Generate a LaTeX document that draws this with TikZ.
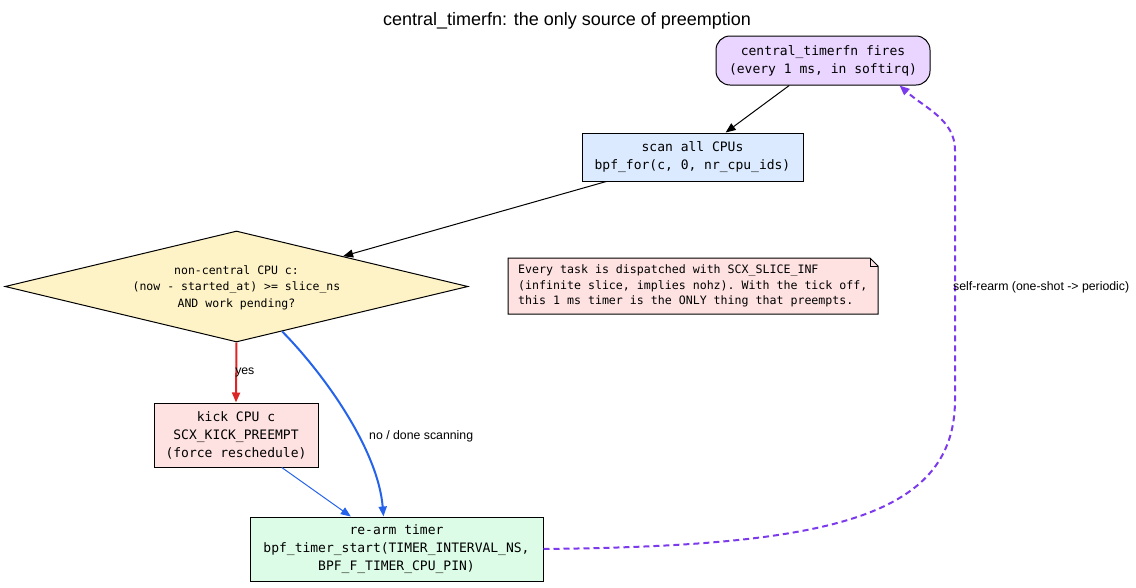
\documentclass[tikz,border=0pt]{standalone}
\usepackage{fontspec}
\setmainfont{Liberation Sans}
\setmonofont{DejaVu Sans Mono}
\usetikzlibrary{shapes.geometric,arrows.meta,calc,backgrounds}
\definecolor{topfill}{HTML}{E9D5FF}
\definecolor{scanfill}{HTML}{DBEAFE}
\definecolor{diafill}{HTML}{FEF3C7}
\definecolor{redfill}{HTML}{FEE2E2}
\definecolor{greenfill}{HTML}{DCFCE7}
\definecolor{redline}{HTML}{DC2626}
\definecolor{blueline}{HTML}{2563EB}
\definecolor{purpleline}{HTML}{7C3AED}
\begin{document}
\begin{tikzpicture}[x=1pt,y=-1pt,
  box/.style={draw=black, line width=1pt, align=center, inner sep=0pt,
    font=\fontsize{13}{18}\selectfont\ttfamily},
  lbl/.style={font=\fontsize{12.3}{14}\selectfont, inner sep=0pt},
  tip/.style={-{Triangle[length=10pt,width=8pt]}},
  ]
\useasboundingbox (0,0) rectangle (1136,587);

\node[font=\fontsize{18}{20}\selectfont, inner sep=0pt] (title) at (567,21) {central\_timerfn: the only source of preemption};

\node[box, fill=topfill, rounded corners=14pt, minimum width=214pt, minimum height=49pt] (top) at (823,60.5)
  {central\_timerfn fires\\(every 1 ms, in softirq)};
\node[box, fill=scanfill, minimum width=221pt, minimum height=48pt] (scan) at (692.5,157)
  {scan all CPUs\\bpf\_for(c, 0, nr\_cpu\_ids)};
\node[draw=black, line width=1pt, fill=diafill, diamond, minimum width=463pt, minimum height=111pt, inner sep=0pt] (dia) at (236.5,286.5) {};
\node[align=center, inner sep=0pt, font=\fontsize{11.5}{16.5}\selectfont\ttfamily] (diatext) at ($(dia.center)+(0,1)$)
  {non-central CPU c:\\(now - started\_at) >= slice\_ns\\AND work pending?};
\node[box, fill=redfill, minimum width=164pt, minimum height=64pt] (kick) at (236,435)
  {kick CPU c\\SCX\_KICK\_PREEMPT\\(force reschedule)};
\node[box, fill=greenfill, minimum width=293pt, minimum height=64pt] (rearm) at (396.5,549)
  {re-arm timer\\bpf\_timer\_start(TIMER\_INTERVAL\_NS,\\BPF\_F\_TIMER\_CPU\_PIN)};

\node[align=left, inner sep=0pt, font=\fontsize{11.6}{15.5}\selectfont\ttfamily, anchor=west] (note) at (518,286)
  {Every task is dispatched with SCX\_SLICE\_INF\\(infinite slice, implies nohz). With the tick off,\\this 1 ms timer is the ONLY thing that preempts.};
\coordinate (nNW) at (508,258);
\coordinate (nSE) at (878,314);
\begin{scope}[on background layer]
\draw[line width=1pt, fill=redfill] (nNW) -- ($(nSE|-nNW)+(-8,0)$) -- ($(nSE|-nNW)+(0,8)$) -- (nSE) -- (nNW|-nSE) -- cycle;
\end{scope}
\draw[line width=0.8pt] ($(nSE|-nNW)+(-8,0)$) -- ($(nSE|-nNW)+(-8,8)$) -- ($(nSE|-nNW)+(0,8)$);

% connectors
\draw[tip, line width=1pt] (top) -- (scan);
\draw[tip, line width=1pt] (scan) -- (dia);
\draw[tip, redline, line width=2pt] (dia.south) -- (kick.north) node[lbl, black, pos=0.5, anchor=west, xshift=-2pt] {yes};
\draw[tip, blueline, line width=2pt] ($(dia.south)!0.197!(dia.east)$) .. controls (325,375) and (378,450) .. ($(rearm.north)+(-13,0)$);
\node[lbl, anchor=west] (nolbl) at (369,436) {no / done scanning};
\draw[tip, blueline, line width=1pt] (kick) -- (rearm);
\draw[tip, purpleline, line width=2pt, dash pattern=on 6pt off 4pt] (rearm.east)
  .. controls (820,546) and (955,520) .. (955,400) -- (955,150)
  .. controls (955,120) and (925,108) .. ($(top.south east)+(-31,0)$);
\node[lbl, anchor=west] (rearmlbl) at (953,287) {self-rearm (one-shot -> periodic)};
\end{tikzpicture}
\end{document}
